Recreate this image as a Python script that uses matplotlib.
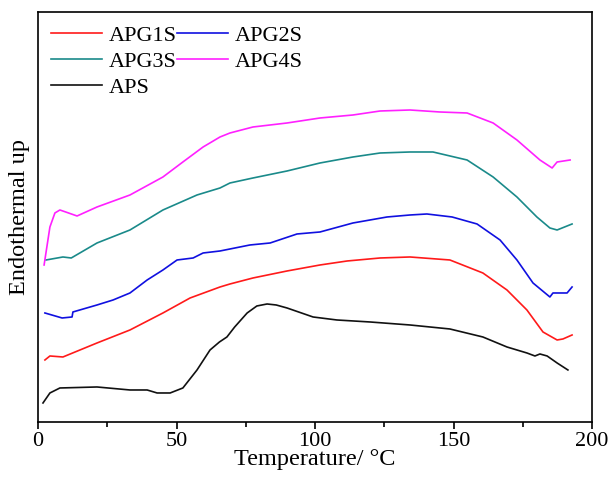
import matplotlib.pyplot as plt
from matplotlib.ticker import MultipleLocator

plt.rcParams['font.family'] = ['Liberation Serif', 'DejaVu Serif']

# DSC 曲线数据（从图中读取，纵轴为任意单位）
apg1s_t = [2.5, 4.3, 9.0, 21.3, 33.2, 45.1, 54.9, 65.7, 69.3, 77.6, 89.9, 101.8, 111.6,
           123.5, 134.3, 148.7, 160.6, 169.3, 176.5, 182.3, 187.4, 189.5, 192.8]
apg1s_v = [0.62, 0.66, 0.65, 0.79, 0.92, 1.09, 1.24, 1.35, 1.38, 1.44, 1.51, 1.57, 1.61,
           1.64, 1.65, 1.62, 1.49, 1.32, 1.12, 0.90, 0.82, 0.83, 0.87]

apg2s_t = [2.5, 8.7, 12.3, 12.6, 21.3, 27.1, 33.2, 39.4, 45.1, 50.2, 56.0, 59.6, 65.7,
           76.5, 83.8, 93.5, 101.8, 113.7, 126.0, 134.3, 140.4, 149.5, 158.5, 166.8,
           172.9, 178.7, 184.8, 185.9, 191.0, 192.8]
apg2s_v = [1.09, 1.04, 1.05, 1.10, 1.17, 1.22, 1.29, 1.42, 1.52, 1.62, 1.64, 1.69, 1.71,
           1.77, 1.79, 1.88, 1.90, 1.99, 2.05, 2.07, 2.08, 2.05, 1.98, 1.82,
           1.62, 1.39, 1.25, 1.29, 1.29, 1.35]

apg3s_t = [2.9, 9.0, 12.0, 21.3, 33.2, 45.1, 57.4, 65.7, 69.3, 77.6, 89.9, 101.8, 113.7,
           123.5, 134.3, 142.6, 154.9, 164.3, 172.9, 180.1, 184.8, 187.4, 192.8]
apg3s_v = [1.62, 1.65, 1.64, 1.79, 1.92, 2.12, 2.27, 2.34, 2.39, 2.44, 2.51, 2.59, 2.65,
           2.69, 2.70, 2.70, 2.62, 2.45, 2.25, 2.05, 1.94, 1.92, 1.98]

apg4s_t = [2.2, 4.3, 6.1, 7.9, 10.0, 14.1, 21.3, 33.2, 45.1, 52.3, 59.6, 65.7, 69.3, 77.6,
           89.9, 101.8, 113.7, 123.5, 134.3, 145.1, 154.9, 164.3, 172.9, 181.2, 185.6,
           187.4, 192.1]
apg4s_v = [1.57, 1.95, 2.09, 2.12, 2.10, 2.06, 2.15, 2.27, 2.45, 2.60, 2.75, 2.85, 2.89, 2.95,
           2.99, 3.04, 3.07, 3.11, 3.12, 3.10, 3.09, 2.99, 2.82, 2.62, 2.54,
           2.60, 2.62]

aps_t = [1.8, 4.3, 7.9, 21.3, 33.2, 39.4, 43.0, 47.7, 52.3, 57.4, 62.1, 65.5, 68.2, 71.0,
         75.5, 79.0, 82.7, 86.0, 89.9, 99.3, 107.9, 119.9, 134.3, 148.7, 160.6, 169.3,
         176.5, 179.4, 181.2, 183.8, 187.4, 191.3]
aps_v = [0.19, 0.29, 0.34, 0.35, 0.32, 0.32, 0.29, 0.29, 0.34, 0.52, 0.72, 0.80, 0.85, 0.95,
         1.09, 1.16, 1.18, 1.17, 1.14, 1.05, 1.02, 1.00, 0.97, 0.93, 0.85, 0.75,
         0.69, 0.66, 0.68, 0.66, 0.59, 0.52]

fig = plt.figure(figsize=(6.1, 4.78), dpi=100)
ax = fig.add_axes([0.0623, 0.1172, 0.9082, 0.8577])

lw = 1.2
l1, = ax.plot(apg1s_t, apg1s_v, color='#ff1a1a', lw=lw, label='APG1S')
l2, = ax.plot(apg2s_t, apg2s_v, color='#1010e0', lw=lw, label='APG2S')
l3, = ax.plot(apg3s_t, apg3s_v, color='#1a8a8a', lw=lw, label='APG3S')
l4, = ax.plot(apg4s_t, apg4s_v, color='#ff20ff', lw=lw, label='APG4S')
l5, = ax.plot(aps_t, aps_v, color='#111111', lw=lw, label='APS')

ax.set_xlim(0, 200)
ax.set_ylim(0, 4.1)
ax.xaxis.set_major_locator(MultipleLocator(50))
ax.xaxis.set_minor_locator(MultipleLocator(25))
ax.tick_params(axis='x', which='major', direction='out', length=5, width=1.2, labelsize=16, pad=2)
ax.tick_params(axis='x', which='minor', direction='out', length=3.5, width=1.2)
ax.set_yticks([])
for s in ax.spines.values():
    s.set_linewidth(1.2)

ax.set_xlabel('Temperature/ °C', fontsize=17.5, labelpad=-1)
ax.set_ylabel('Endothermal up', fontsize=17.5, labelpad=6)

# 图例两列：第一列 APG1S/APG3S/APS，第二列 APG2S/APG4S
ax.legend([l1, l3, l5, l2, l4], ['APG1S', 'APG3S', 'APS', 'APG2S', 'APG4S'],
          ncol=2, loc='upper left', frameon=False, fontsize=16,
          handlelength=2.3, handletextpad=0.3, columnspacing=0.0,
          labelspacing=0.25, borderaxespad=0.3, borderpad=0.3)

fig.savefig('out.png', dpi=100)
